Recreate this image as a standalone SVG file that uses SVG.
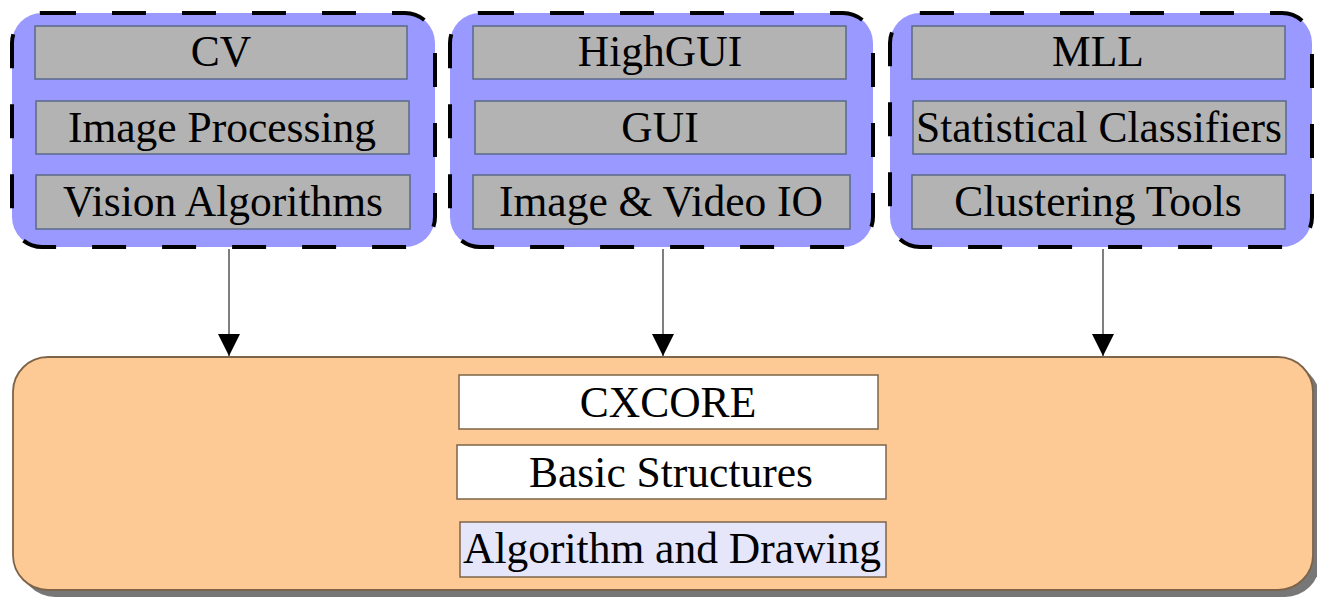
<svg xmlns="http://www.w3.org/2000/svg" width="1317" height="599" viewBox="0 0 1317 599">
<defs>
<style>
.grp{fill:#9999ff;stroke:#000;stroke-width:4;stroke-dasharray:34 36}
.item{fill:#b3b3b3;stroke:#5a6a86;stroke-width:1.5}
.core{fill:#fdca96;stroke:#7d6448;stroke-width:1.8}
.shadow{fill:#777}
.citem{fill:#fff;stroke:#7d6448;stroke-width:1.5}
.citem2{fill:#e6e6fa;stroke:#7d6448;stroke-width:1.5}
text{font-family:"Liberation Serif","Times New Roman",serif;font-size:43.5px;fill:#000;text-anchor:middle}
.conn{stroke:#555;stroke-width:1.5;fill:none}
</style>
<marker id="arr" markerUnits="userSpaceOnUse" markerWidth="22" markerHeight="30" refX="20" refY="10" orient="auto" viewBox="0 0 20 20">
<path d="M0,0 L20,10 L0,20 Z" fill="#000"/>
</marker>
</defs>
<g id="cxcore">
<rect class="shadow" x="20" y="364" width="1300" height="233" rx="35"/>
<rect class="core" x="13" y="357" width="1300" height="233" rx="35"/>
<rect class="citem" x="459" y="375" width="419" height="54"/>
<text x="668" y="417">CXCORE</text>
<rect class="citem" x="457" y="445" width="429" height="54"/>
<text x="671" y="487">Basic Structures</text>
<rect class="citem2" x="460" y="522" width="426" height="55"/>
<text x="672" y="563">Algorithm and Drawing</text>
</g>
<g id="cv">
<rect class="grp" x="12" y="13" width="423" height="234" rx="30"/>
<rect class="item" x="35" y="26" width="372" height="53"/>
<text x="221" y="66">CV</text>
<rect class="item" x="36" y="101" width="373" height="53"/>
<text x="222" y="142">Image Processing</text>
<rect class="item" x="36" y="175" width="374" height="54"/>
<text x="223" y="216">Vision Algorithms</text>
</g>
<g id="highgui">
<rect class="grp" x="450" y="13" width="423" height="234" rx="30"/>
<rect class="item" x="473" y="26" width="373" height="53"/>
<text x="660" y="66">HighGUI</text>
<rect class="item" x="475" y="101" width="371" height="53"/>
<text x="660" y="142">GUI</text>
<rect class="item" x="473" y="175" width="377" height="54"/>
<text x="661" y="216">Image &amp; Video IO</text>
</g>
<g id="mll">
<rect class="grp" x="890" y="13" width="422" height="234" rx="30"/>
<rect class="item" x="912" y="26" width="373" height="53"/>
<text x="1098" y="66">MLL</text>
<rect class="item" x="913" y="101" width="373" height="53"/>
<text x="1099" y="142">Statistical Classifiers</text>
<rect class="item" x="912" y="175" width="373" height="54"/>
<text x="1098" y="216">Clustering Tools</text>
</g>
<g id="connectors">
<line class="conn" x1="229" y1="249" x2="229" y2="356" marker-end="url(#arr)"/>
<line class="conn" x1="663" y1="249" x2="663" y2="356" marker-end="url(#arr)"/>
<line class="conn" x1="1103" y1="249" x2="1103" y2="356" marker-end="url(#arr)"/>
</g>
</svg>
